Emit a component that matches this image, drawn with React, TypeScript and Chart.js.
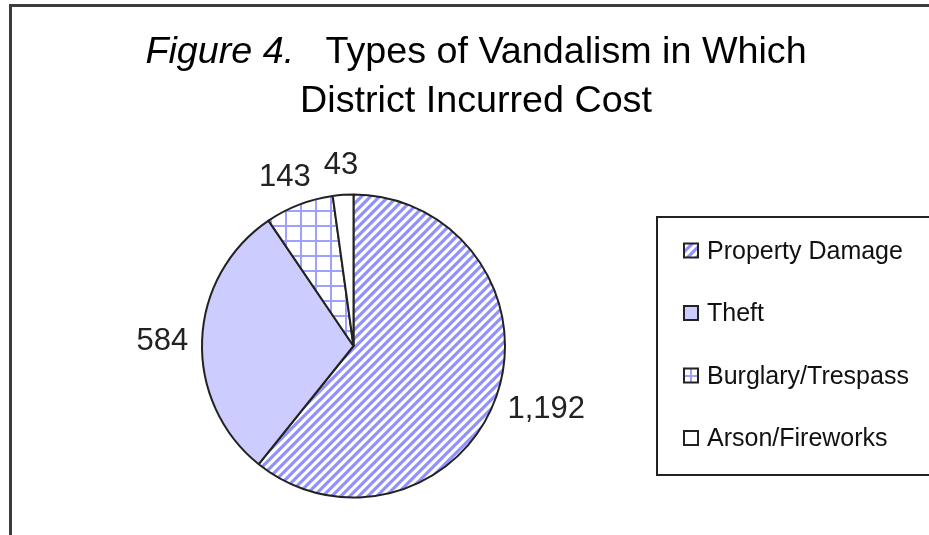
import React, { useEffect, useRef } from "react";
import { Chart, registerables } from "chart.js";

Chart.register(...registerables);

const TITLE_ITALIC = "Figure 4.";
const TITLE_LINE1 = "Types of Vandalism in Which";
const TITLE_LINE2 = "District Incurred Cost";
const CATEGORIES = ["Property Damage", "Theft", "Burglary/Trespass", "Arson/Fireworks"];
const VALUES = [1192, 584, 143, 43];

const FONT = '"Liberation Sans", Arial, sans-serif';

function makeStripes(): CanvasPattern | string {
  const s = 9;
  const c = document.createElement("canvas");
  c.width = s;
  c.height = s;
  const g = c.getContext("2d");
  if (!g) return "#9090ff";
  g.fillStyle = "#ffffff";
  g.fillRect(0, 0, s, s);
  g.strokeStyle = "#9090ff";
  g.lineWidth = 3.1;
  g.beginPath();
  g.moveTo(-1, s + 1);
  g.lineTo(s + 1, -1);
  g.moveTo(-s / 2 - 1, s / 2 + 1);
  g.lineTo(s / 2 + 1, -s / 2 - 1);
  g.moveTo(s / 2 - 1, s * 1.5 + 1);
  g.lineTo(s * 1.5 + 1, s / 2 - 1);
  g.stroke();
  const p = g.createPattern(c, "repeat");
  return p || "#9090ff";
}

function makeGrid(): CanvasPattern | string {
  const s = 15;
  const c = document.createElement("canvas");
  c.width = s;
  c.height = s;
  const g = c.getContext("2d");
  if (!g) return "#ccccff";
  g.fillStyle = "#ffffff";
  g.fillRect(0, 0, s, s);
  g.fillStyle = "#a0a0ff";
  g.fillRect(0, 0, s, 2);
  g.fillRect(0, 0, 2, s);
  const p = g.createPattern(c, "repeat");
  return p || "#ccccff";
}

export default function App() {
  const ref = useRef<HTMLCanvasElement>(null);

  useEffect(() => {
    document.body.style.margin = "0";
    const canvas = ref.current;
    if (!canvas) return;
    const fills = [makeStripes(), "#ccccff", makeGrid(), "#ffffff"];

    const decor = {
      id: "decor",
      beforeDraw(chart: any) {
        const ctx = chart.ctx;
        ctx.save();
        ctx.fillStyle = "#ffffff";
        ctx.fillRect(0, 0, chart.width, chart.height);
        ctx.restore();
      },
      afterDatasetsDraw(chart: any) {
        const ctx = chart.ctx;
        const meta = chart.getDatasetMeta(0);
        ctx.save();
        ctx.font = `31px ${FONT}`;
        ctx.fillStyle = "#222222";
        ctx.textAlign = "center";
        ctx.textBaseline = "alphabetic";
        meta.data.forEach((arc: any, i: number) => {
          const p = arc.getProps(["x", "y", "startAngle", "endAngle", "outerRadius"], true);
          const mid = (p.startAngle + p.endAngle) / 2;
          const text = VALUES[i].toLocaleString("en-US");
          const w = ctx.measureText(text).width;
          const h = 36;
          const R = p.outerRadius + 14;
          const cx = p.x + Math.cos(mid) * R + (Math.cos(mid) * w) / 2;
          const cy = p.y + Math.sin(mid) * R + (Math.sin(mid) * h) / 2;
          ctx.fillText(text, cx, cy + 11);
        });
        ctx.restore();
      },
      afterDraw(chart: any) {
        const ctx = chart.ctx;
        ctx.save();
        // outer frame
        ctx.strokeStyle = "#3c3c3c";
        ctx.lineWidth = 3;
        ctx.strokeRect(10.5, 5.5, 960, 600);

        // title
        const cxTitle = 476;
        ctx.fillStyle = "#000000";
        ctx.textBaseline = "alphabetic";
        ctx.textAlign = "left";
        ctx.font = `italic 37.7px ${FONT}`;
        const wI = ctx.measureText(TITLE_ITALIC).width;
        ctx.font = `37.7px ${FONT}`;
        const wSp = ctx.measureText("   ").width;
        const wR = ctx.measureText(TITLE_LINE1).width;
        const x0 = cxTitle - (wI + wSp + wR) / 2;
        ctx.font = `italic 37.7px ${FONT}`;
        ctx.fillText(TITLE_ITALIC, x0, 62.5);
        ctx.font = `37.7px ${FONT}`;
        ctx.fillText(TITLE_LINE1, x0 + wI + wSp, 62.5);
        ctx.textAlign = "center";
        ctx.fillText(TITLE_LINE2, cxTitle, 112);

        // legend box
        const lx = 657;
        const ly = 217;
        const lh = 258;
        ctx.strokeStyle = "#222222";
        ctx.lineWidth = 2;
        ctx.strokeRect(lx, ly, 400, lh);

        const ds = chart.data.datasets[0];
        const labels = chart.data.labels as string[];
        ctx.font = `25px ${FONT}`;
        ctx.textAlign = "left";
        labels.forEach((lab: string, i: number) => {
          const rowY = ly + 33.5 + i * 62.5;
          const sx = 684;
          const sy = rowY - 7;
          ctx.fillStyle = ds.backgroundColor[i];
          ctx.fillRect(sx, sy, 14, 14);
          ctx.strokeStyle = "#222222";
          ctx.lineWidth = 2;
          ctx.strokeRect(sx, sy, 14, 14);
          ctx.fillStyle = "#111111";
          ctx.fillText(lab, 707, rowY + 8);
        });
        ctx.restore();
      },
    };

    const chart = new Chart(canvas, {
      type: "pie",
      data: {
        labels: CATEGORIES,
        datasets: [
          {
            data: VALUES,
            backgroundColor: fills as any,
            borderColor: "#222222",
            borderWidth: 2,
          },
        ],
      },
      options: {
        responsive: false,
        devicePixelRatio: 1,
        animation: false,
        events: [],
        layout: { padding: { left: 201, right: 423, top: 193.5, bottom: 36.5 } },
        plugins: {
          legend: { display: false },
          title: { display: false },
          tooltip: { enabled: false },
        },
      },
      plugins: [decor],
    });
    return () => chart.destroy();
  }, []);

  return (
    <div style={{ width: 929, height: 535 }}>
      <canvas ref={ref} width={929} height={535} style={{ display: "block" }} />
    </div>
  );
}
